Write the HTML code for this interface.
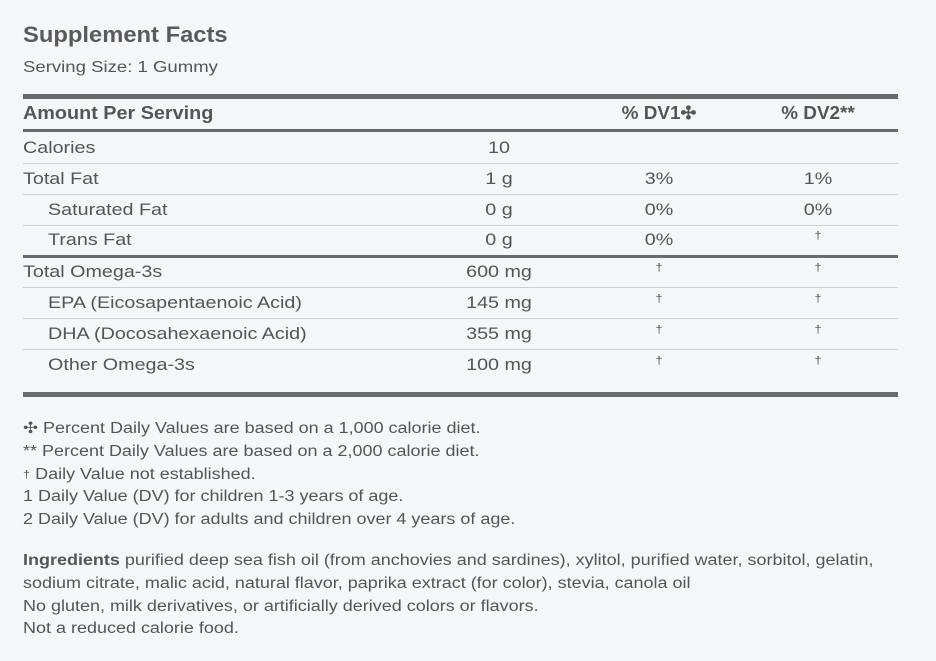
<!DOCTYPE html>
<html><head><style>
body{margin:0;background:#f5f6f7;width:936px;height:661px;overflow:hidden;font-family:"Liberation Sans",sans-serif;color:#555;}
.t{position:absolute;white-space:nowrap;transform-origin:0 0;transform:scaleX(1.16);}
.ln{position:absolute;left:23px;width:875px;}
.c{position:absolute;transform:translateX(-50%) scaleX(1.16);white-space:nowrap;}
</style></head><body>
<div class="t" style="left:23px;top:22px;font-size:22px;font-weight:bold;color:#5a5a5a;transform:scaleX(1.08)">Supplement Facts</div>
<div class="t" style="left:23px;top:59px;font-size:16px">Serving Size: 1 Gummy</div>
<div class="ln" style="top:94px;height:5px;background:#6a6a6a"></div>
<div class="t" style="left:23px;top:103px;font-size:18px;font-weight:bold;transform:scaleX(1.1)">Amount Per Serving</div>
<div class="c" style="left:659px;top:103px;font-size:18px;font-weight:bold;transform:translateX(-50%) scaleX(1.05)">% DV1✣</div>
<div class="c" style="left:818px;top:103px;font-size:18px;font-weight:bold;transform:translateX(-50%) scaleX(1.05)">% DV2**</div>
<div class="ln" style="top:129px;height:3px;background:#6a6a6a"></div>

<div class="t" style="left:23px;top:138px;font-size:17px">Calories</div>
<div class="c" style="left:499px;top:138px;font-size:17px">10</div>
<div class="ln" style="top:163px;height:1px;background:#cfcfcf"></div>

<div class="t" style="left:23px;top:169px;font-size:17px">Total Fat</div>
<div class="c" style="left:499px;top:169px;font-size:17px">1 g</div>
<div class="c" style="left:659px;top:169px;font-size:17px">3%</div>
<div class="c" style="left:818px;top:169px;font-size:17px">1%</div>
<div class="ln" style="top:194px;height:1px;background:#cfcfcf"></div>

<div class="t" style="left:48px;top:200px;font-size:17px">Saturated Fat</div>
<div class="c" style="left:499px;top:200px;font-size:17px">0 g</div>
<div class="c" style="left:659px;top:200px;font-size:17px">0%</div>
<div class="c" style="left:818px;top:200px;font-size:17px">0%</div>
<div class="ln" style="top:225px;height:1px;background:#cfcfcf"></div>

<div class="t" style="left:48px;top:230px;font-size:17px">Trans Fat</div>
<div class="c" style="left:499px;top:230px;font-size:17px">0 g</div>
<div class="c" style="left:659px;top:230px;font-size:17px">0%</div>
<div class="c" style="left:818px;top:230px;font-size:11px">†</div>
<div class="ln" style="top:255px;height:3px;background:#6a6a6a"></div>

<div class="t" style="left:23px;top:262px;font-size:17px">Total Omega-3s</div>
<div class="c" style="left:499px;top:262px;font-size:17px">600 mg</div>
<div class="c" style="left:659px;top:262px;font-size:11px">†</div>
<div class="c" style="left:818px;top:262px;font-size:11px">†</div>
<div class="ln" style="top:287px;height:1px;background:#cfcfcf"></div>

<div class="t" style="left:48px;top:293px;font-size:17px">EPA (Eicosapentaenoic Acid)</div>
<div class="c" style="left:499px;top:293px;font-size:17px">145 mg</div>
<div class="c" style="left:659px;top:293px;font-size:11px">†</div>
<div class="c" style="left:818px;top:293px;font-size:11px">†</div>
<div class="ln" style="top:318px;height:1px;background:#cfcfcf"></div>

<div class="t" style="left:48px;top:324px;font-size:17px">DHA (Docosahexaenoic Acid)</div>
<div class="c" style="left:499px;top:324px;font-size:17px">355 mg</div>
<div class="c" style="left:659px;top:324px;font-size:11px">†</div>
<div class="c" style="left:818px;top:324px;font-size:11px">†</div>
<div class="ln" style="top:349px;height:1px;background:#cfcfcf"></div>

<div class="t" style="left:48px;top:355px;font-size:17px">Other Omega-3s</div>
<div class="c" style="left:499px;top:355px;font-size:17px">100 mg</div>
<div class="c" style="left:659px;top:355px;font-size:11px">†</div>
<div class="c" style="left:818px;top:355px;font-size:11px">†</div>
<div class="ln" style="top:392px;height:5px;background:#6a6a6a"></div>

<div class="t" style="left:23px;top:418px;font-size:15.5px;line-height:22.8px">✣ Percent Daily Values are based on a 1,000 calorie diet.<br>** Percent Daily Values are based on a 2,000 calorie diet.<br><span style="font-size:11px;vertical-align:top">†</span> Daily Value not established.<br>1 Daily Value (DV) for children 1-3 years of age.<br>2 Daily Value (DV) for adults and children over 4 years of age.</div>

<div class="t" style="left:23px;top:550px;font-size:15.5px;line-height:22.8px"><b>Ingredients</b> purified deep sea fish oil (from anchovies and sardines), xylitol, purified water, sorbitol, gelatin,<br>sodium citrate, malic acid, natural flavor, paprika extract (for color), stevia, canola oil<br>No gluten, milk derivatives, or artificially derived colors or flavors.<br>Not a reduced calorie food.</div>
</body></html>
